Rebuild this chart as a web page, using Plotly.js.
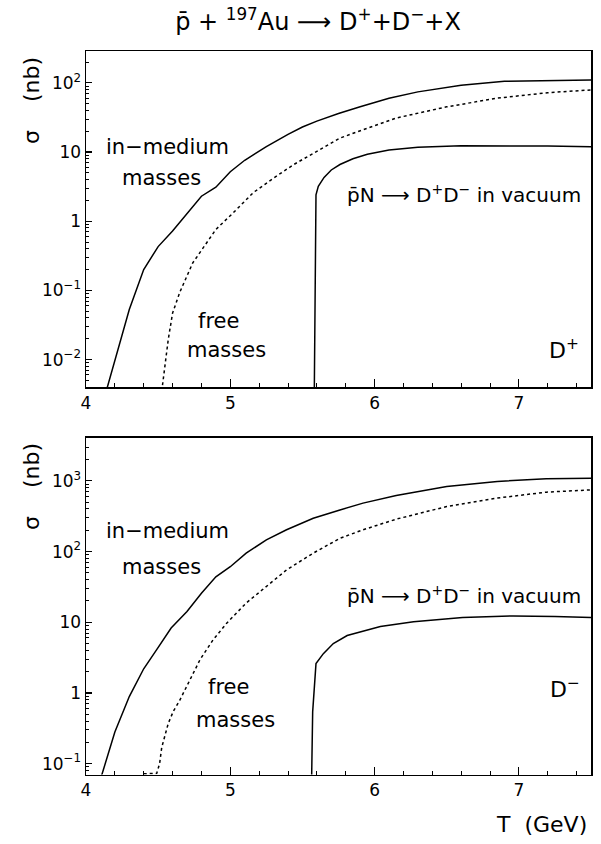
<!DOCTYPE html>
<html>
<head>
<meta charset="utf-8">
<script src="https://cdn.plot.ly/plotly-3.0.1.min.js"></script>
<style>html,body{margin:0;padding:0;background:#fff;}#chart{width:601px;height:844px;}</style>
</head>
<body>
<div id="chart"></div>
<script>
// ---------- data (T in GeV, sigma in nb) ----------
// D+ panel
var plusMediumT   = [4.14, 4.30, 4.40, 4.50, 4.60, 4.70, 4.80, 4.90, 5.00, 5.10, 5.25, 5.40, 5.50, 5.60, 5.75, 5.90, 6.10, 6.30, 6.60, 6.90, 7.20, 7.50];
var plusMediumSig = [0.0035, 0.053, 0.20, 0.43, 0.72, 1.3, 2.3, 3.1, 5.2, 7.6, 12, 18, 23, 28, 36, 45, 60, 74, 92, 105, 108, 110];
var plusFreeT     = [4.525, 4.57, 4.60, 4.65, 4.74, 4.84, 4.90, 5.02, 5.16, 5.30, 5.44, 5.58, 5.76, 5.92, 6.15, 6.50, 6.85, 7.20, 7.50];
var plusFreeSig   = [0.0035, 0.0195, 0.047, 0.094, 0.25, 0.49, 0.76, 1.32, 2.6, 4.2, 6.6, 9.7, 15.9, 21, 31, 45, 60, 72, 79];
var plusVacT      = [5.582, 5.594, 5.61, 5.65, 5.70, 5.76, 5.85, 5.95, 6.10, 6.30, 6.60, 6.90, 7.20, 7.50];
var plusVacSig    = [0.003, 2.4, 3.2, 4.3, 5.5, 6.6, 8.0, 9.3, 10.7, 11.7, 12.3, 12.4, 12.2, 11.9];
// D- panel
var minusMediumT   = [4.10, 4.20, 4.30, 4.40, 4.49, 4.59, 4.70, 4.80, 4.90, 5.00, 5.11, 5.25, 5.39, 5.575, 5.76, 5.92, 6.15, 6.50, 6.85, 7.19, 7.50];
var minusMediumSig = [0.06, 0.28, 0.89, 2.2, 4.1, 8.3, 14.2, 25.7, 44, 61, 95, 146, 203, 296, 388, 484, 620, 830, 980, 1070, 1090];
var minusFreeT     = [4.40, 4.49, 4.51, 4.525, 4.57, 4.605, 4.65, 4.72, 4.79, 4.88, 4.975, 5.11, 5.25, 5.39, 5.575, 5.76, 5.92, 6.15, 6.50, 6.85, 7.19, 7.50];
var minusFreeSig   = [0.072, 0.073, 0.10, 0.17, 0.37, 0.55, 0.79, 1.53, 2.95, 5.6, 9.7, 18.7, 32, 55, 95, 154, 203, 287, 433, 570, 692, 745];
var minusVacT      = [5.563, 5.571, 5.594, 5.645, 5.714, 5.81, 6.04, 6.27, 6.61, 6.96, 7.25, 7.50];
var minusVacSig    = [0.05, 0.54, 2.6, 3.6, 5.0, 6.5, 8.7, 10.2, 11.7, 12.3, 12.1, 11.7];

// tick labels
var xTickVals = [4, 5, 6, 7];
var xTickText = ['4', '5', '6', '7'];
var plusTickVals  = [0.01, 0.1, 1, 10, 100];
var plusTickText  = ['10<sup>\u22122</sup>', '10<sup>\u22121</sup>', '1', '10', '10<sup>2</sup>'];
var minusTickVals = [0.1, 1, 10, 100, 1000];
var minusTickText = ['10<sup>\u22121</sup>', '1', '10', '10<sup>2</sup>', '10<sup>3</sup>'];

// ---------- layout helpers ----------
var W = 601, H = 844;
function px(x) { return x / W; }
function py(y) { return 1 - y / H; }
var FONT = 'DejaVu Sans';

var solid = {color: 'black', width: 1.5};
var dashed = {color: 'black', width: 1.5, dash: '3px,3px'};

var traces = [
  {x: plusMediumT, y: plusMediumSig, xaxis: 'x', yaxis: 'y', mode: 'lines', line: solid},
  {x: plusFreeT, y: plusFreeSig, xaxis: 'x', yaxis: 'y', mode: 'lines', line: dashed},
  {x: plusVacT, y: plusVacSig, xaxis: 'x', yaxis: 'y', mode: 'lines', line: solid},
  {x: minusMediumT, y: minusMediumSig, xaxis: 'x2', yaxis: 'y2', mode: 'lines', line: solid},
  {x: minusFreeT, y: minusFreeSig, xaxis: 'x2', yaxis: 'y2', mode: 'lines', line: dashed},
  {x: minusVacT, y: minusVacSig, xaxis: 'x2', yaxis: 'y2', mode: 'lines', line: solid}
];

function xAxis(anchor, dom) {
  return {
    domain: dom, anchor: anchor, range: [4, 7.5],
    tickmode: 'array', tickvals: xTickVals, ticktext: xTickText,
    ticks: 'inside', ticklen: 8, tickwidth: 1.2, tickcolor: 'black',
    minor: {ticks: 'inside', ticklen: 4, dtick: 0.2, tick0: 4, tickcolor: 'black', tickwidth: 1},
    showline: true, mirror: true, linecolor: 'black', linewidth: 1.5,
    showgrid: false, zeroline: false,
    tickfont: {family: FONT, size: 17, color: 'black'}
  };
}
function yAxis(anchor, dom, rng, tv, tt) {
  return {
    domain: dom, anchor: anchor, type: 'log', range: rng,
    tickmode: 'array', tickvals: tv, ticktext: tt,
    ticks: 'inside', ticklen: 6, tickwidth: 1.2, tickcolor: 'black',
    minor: {ticks: 'inside', ticklen: 3, dtick: 'D1', tickcolor: 'black', tickwidth: 1},
    showline: true, mirror: true, linecolor: 'black', linewidth: 1.5,
    showgrid: false, zeroline: false,
    tickfont: {family: FONT, size: 17, color: 'black'}
  };
}

var xdom = [px(86), px(591)];
var layout = {
  width: W, height: H,
  margin: {l: 0, r: 0, t: 0, b: 0},
  paper_bgcolor: 'white', plot_bgcolor: 'white',
  showlegend: false,
  title: {
    text: 'p\u0304 + <sup>197</sup>Au \u27F6 D<sup>+</sup>+D<sup>\u2212</sup>+X',
    x: px(318), y: py(22), xanchor: 'center', yanchor: 'middle',
    xref: 'paper', yref: 'paper',
    font: {family: FONT, size: 24, color: 'black'}
  },
  xaxis: xAxis('y', xdom),
  yaxis: yAxis('x', [py(387.3), py(51)], [-2.40, 2.46], plusTickVals, plusTickText),
  xaxis2: xAxis('y2', xdom),
  yaxis2: yAxis('x2', [py(774.5), py(437.7)], [-1.153, 3.61], minusTickVals, minusTickText),
  annotations: []
};

function note(text, x, y, size, angle) {
  layout.annotations.push({
    text: text, x: px(x), y: py(y), xref: 'paper', yref: 'paper',
    xanchor: 'center', yanchor: 'middle', showarrow: false,
    textangle: angle || 0,
    font: {family: FONT, size: size, color: 'black'}
  });
}
// top panel
note('in\u2212medium', 168, 147, 21);
note('masses', 161, 178, 21);
note('free', 218, 321, 21);
note('masses', 226, 350, 21);
note('p\u0304N \u27F6 D<sup>+</sup>D<sup>\u2212</sup> in vacuum', 464, 194, 20);
note('D<sup>+</sup>', 564, 349, 22);
note('\u03C3\u00A0\u00A0\u00A0\u00A0(nb)', 31, 101, 22, -90);
// bottom panel
note('in\u2212medium', 168, 531, 21);
note('masses', 161, 567, 21);
note('free', 228, 687, 21);
note('masses', 235, 720, 21);
note('p\u0304N \u27F6 D<sup>+</sup>D<sup>\u2212</sup> in vacuum', 464, 595, 20);
note('D<sup>\u2212</sup>', 565, 688, 22);
note('\u03C3\u00A0\u00A0\u00A0\u00A0(nb)', 31, 487, 22, -90);
note('T\u00A0\u00A0(GeV)', 541, 824, 22);

Plotly.newPlot('chart', traces, layout, {staticPlot: true, displayModeBar: false});
</script>
</body>
</html>
